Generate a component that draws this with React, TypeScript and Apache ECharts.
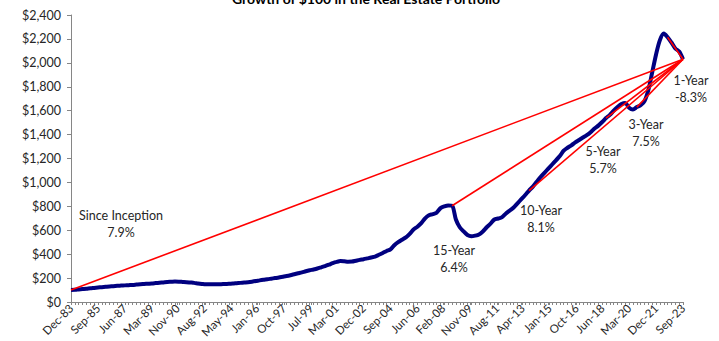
import React, { useEffect, useRef } from "react";
import * as echarts from "echarts";

// Tick labels on the date axis (Excel date axis, irregular month spacing)
const xTickLabels = [
  "Dec-83", "Sep-85", "Jun-87", "Mar-89", "Nov-90", "Aug-92", "May-94", "Jan-96",
  "Oct-97", "Jul-99", "Mar-01", "Dec-02", "Sep-04", "Jun-06", "Feb-08", "Nov-09",
  "Aug-11", "Apr-13", "Jan-15", "Oct-16", "Jun-18", "Mar-20", "Dec-21", "Sep-23",
];

// Quarterly growth of $100, Dec-83 .. Sep-23
const portfolioValues = [
  100,
  102, 105, 108, 111, // 1984
  115, 118, 121, 124, // 1985
  127, 130, 132, 135, // 1986
  137, 139, 141, 143, // 1987
  146, 149, 151, 153, // 1988
  155, 158, 161, 164, // 1989
  167, 169, 171, 170, // 1990
  168, 166, 163, 160, // 1991
  155, 151, 148, 148, // 1992
  148, 148, 149, 151, // 1993
  152, 154, 157, 160, // 1994
  163, 166, 170, 175, // 1995
  181, 186, 190, 195, // 1996
  200, 205, 211, 217, // 1997
  224, 232, 240, 248, // 1998
  257, 265, 272, 280, // 1999
  290, 300, 312, 325, // 2000
  335, 342, 340, 337, // 2001
  338, 345, 352, 358, // 2002
  365, 372, 380, 395, // 2003
  410, 427, 440, 475, // 2004
  500, 520, 540, 570, // 2005
  606, 630, 660, 700, // 2006
  725, 735, 748, 785, // 2007
  800, 808, 805, 690, // 2008
  625, 590, 560, 550, // 2009
  555, 565, 590, 625, // 2010
  655, 690, 698, 710, // 2011
  740, 765, 790, 825, // 2012
  860, 895, 932, 965, // 2013
  1005, 1045, 1080, 1115, // 2014
  1150, 1185, 1220, 1265, // 2015
  1290, 1310, 1335, 1355, // 2016
  1375, 1395, 1420, 1450, // 2017
  1475, 1505, 1538, 1565, // 2018
  1600, 1630, 1655, 1665, // 2019
  1625, 1610, 1630, 1645, // 2020
  1680, 1773, 1920, 2070, // 2021
  2190, 2245, 2214, 2170, // 2022
  2120, 2095, 2030, // 2023
];

// Trailing periods: name, annualised return, start quarter index
const periodNames = ["Since Inception", "15-Year", "10-Year", "5-Year", "3-Year", "1-Year"];
const periodReturns = ["7.9%", "6.4%", "8.1%", "5.7%", "7.5%", "-8.3%"];
const periodStartQuarters = [0, 99, 119, 139, 147, 155];

const yTicks = [0, 200, 400, 600, 800, 1000, 1200, 1400, 1600, 1800, 2000, 2200, 2400];

const MONTHS = ["Jan", "Feb", "Mar", "Apr", "May", "Jun", "Jul", "Aug", "Sep", "Oct", "Nov", "Dec"];
// months elapsed since Dec-83
const labelToMonth = (s: string) => {
  const [mon, yy] = s.split("-");
  const n = parseInt(yy, 10);
  const year = n < 50 ? 2000 + n : 1900 + n;
  return (year - 1983) * 12 + MONTHS.indexOf(mon) - 11;
};

const FONT = "Lato, 'Liberation Sans', sans-serif";

export default function App() {
  const ref = useRef<HTMLDivElement>(null);

  useEffect(() => {
    if (!ref.current) return;
    const chart = echarts.init(ref.current, null, { renderer: "svg" });

    const tickMonths = xTickLabels.map(labelToMonth);
    const monthToLabel: Record<number, string> = {};
    xTickLabels.forEach((l, i) => (monthToLabel[tickMonths[i]] = l));
    const lastQ = portfolioValues.length - 1;
    const endMonth = lastQ * 3;

    const minorTicks: number[] = [];
    for (let m = 0; m <= endMonth; m += 3) minorTicks.push(m);
    const allTicks = Array.from(new Set([...minorTicks, ...tickMonths])).sort((a, b) => a - b);

    const mainData = portfolioValues.map((v, i) => [i * 3, v]);

    const periodSeries = periodStartQuarters.map((q, i) => ({
      type: "line",
      name: periodNames[i],
      data: [
        [q * 3, portfolioValues[q]],
        [endMonth, portfolioValues[lastQ]],
      ],
      symbol: "none",
      lineStyle: { color: "#FF0000", width: 1.6 },
      z: 3,
      silent: true,
    }));

    // annotation positions (layout only)
    const annotations = [
      { x: 121, y: 215 },
      { x: 454, y: 250 },
      { x: 541, y: 210 },
      { x: 603, y: 151 },
      { x: 646, y: 124 },
      { x: 691, y: 80 },
    ];
    const annoGraphics: any[] = [];
    annotations.forEach((a, i) => {
      annoGraphics.push({
        type: "text",
        x: a.x,
        y: a.y,
        style: {
          text: periodNames[i],
          font: `12.5px ${FONT}`,
          fill: "#262626",
          align: "center",
          verticalAlign: "middle",
        },
        z: 10,
      });
      annoGraphics.push({
        type: "text",
        x: a.x,
        y: a.y + 17,
        style: {
          text: periodReturns[i],
          font: `12.5px ${FONT}`,
          fill: "#262626",
          align: "center",
          verticalAlign: "middle",
        },
        z: 10,
      });
    });

    chart.setOption({
      animation: false,
      backgroundColor: "#ffffff",
      grid: { left: 71, right: 36, top: 15, bottom: 39, containLabel: false },
      xAxis: {
        type: "value",
        min: 0,
        max: endMonth,
        splitLine: { show: false },
        axisLine: { show: true, lineStyle: { color: "#868686", width: 1 } },
        axisTick: {
          show: true,
          length: 3,
          customValues: allTicks,
          lineStyle: { color: "#868686" },
        },
        axisLabel: {
          customValues: tickMonths,
          formatter: (v: number) => monthToLabel[Math.round(v)] ?? "",
          rotate: 45,
          fontFamily: FONT,
          fontSize: 11.5,
          color: "#262626",
          margin: 4,
          hideOverlap: false,
        },
      },
      yAxis: {
        type: "value",
        min: 0,
        max: 2400,
        interval: 200,
        splitLine: { show: false },
        axisLine: { show: true, lineStyle: { color: "#868686", width: 1 } },
        axisTick: { show: true, length: 4, lineStyle: { color: "#868686" } },
        axisLabel: {
          formatter: (v: number) => (yTicks.includes(v) ? "$" + v.toLocaleString("en-US") : ""),
          fontFamily: FONT,
          fontSize: 12.5,
          color: "#262626",
          margin: 10,
        },
      },
      series: [
        {
          type: "line",
          name: "Portfolio",
          data: mainData,
          symbol: "none",
          smooth: 0.3,
          lineStyle: { color: "#000080", width: 4 },
          z: 2,
          silent: true,
        },
        ...periodSeries,
      ],
      graphic: [
        {
          type: "text",
          x: 366,
          y: 5,
          style: {
            text: "Growth of $100 in the Real Estate Portfolio",
            font: `bold 14px ${FONT}`,
            fill: "#000000",
            align: "center",
            verticalAlign: "bottom",
          },
          z: 10,
        },
        ...annoGraphics,
      ],
    });

    return () => chart.dispose();
  }, []);

  return (
    <div
      ref={ref}
      style={{ position: "fixed", left: 0, top: 0, width: 719, height: 341 }}
    />
  );
}
